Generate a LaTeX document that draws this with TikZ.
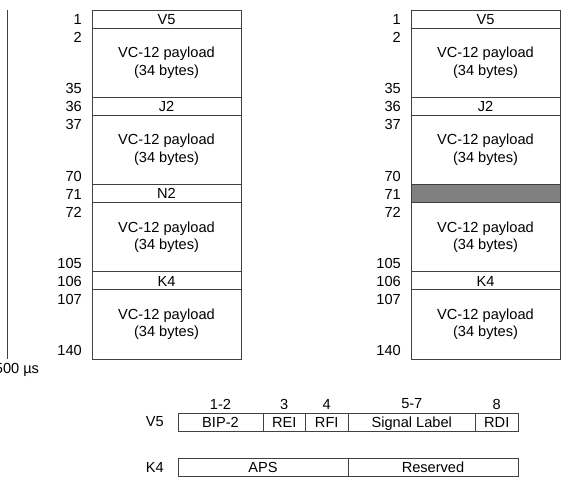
\documentclass[tikz,border=0pt]{standalone}
\usepackage{fontspec}
\setmainfont{Liberation Sans}
\usetikzlibrary{positioning}

\tikzset{
  box/.style={draw=black!75, line width=0.8pt, minimum width=149pt, inner sep=0pt,
    outer sep=0pt, anchor=north west, align=center},
  byterow/.style={box, minimum height=18pt, text height=10.5pt, text depth=0pt},
  payload/.style={box, minimum height=69.25pt},
  num/.style={anchor=east, inner sep=0pt},
  bitcell/.style={draw=black!75, line width=0.8pt, minimum height=18pt, inner sep=0pt,
    outer sep=0pt, anchor=north west, text height=10.5pt, text depth=0pt},
}

\begin{document}
\begin{tikzpicture}[x=1pt, y=-1pt, font=\fontsize{14.6}{17.4}\selectfont]
  \useasboundingbox (0,0) rectangle (568,482);
  \clip (0,0) rectangle (568,482);

  % multiframe period
  \coordinate (ptop) at (7.5,10);
  \coordinate (pbot) at (7.5,359);
  \draw[line width=0.8pt, black!75] (ptop) -- (pbot);
  \node (period) at (17,370) {500 µs};

  % left column
  \node[byterow] (lv5)  at (92,10)     {V5};
  \node[payload] (lp1)  at (92,28)     {VC-12 payload\\(34 bytes)};
  \node[byterow] (lj2)  at (92,97.25)  {J2};
  \node[payload] (lp2)  at (92,115.25) {VC-12 payload\\(34 bytes)};
  \node[byterow] (ln2)  at (92,184.5)  {N2};
  \node[payload] (lp3)  at (92,202.5)  {VC-12 payload\\(34 bytes)};
  \node[byterow] (lk4)  at (92,271.75) {K4};
  \node[payload] (lp4)  at (92,289.75) {VC-12 payload\\(34 bytes)};

  \node[num] (ln1)   at (82,19)  {1};
  \node[num] (ln2a)  at (82,37)  {2};
  \node[num] (ln35)  at (82,88)  {35};
  \node[num] (ln36)  at (82,106) {36};
  \node[num] (ln37)  at (82,124) {37};
  \node[num] (ln70)  at (82,176) {70};
  \node[num] (ln71)  at (82,194) {71};
  \node[num] (ln72)  at (82,212) {72};
  \node[num] (ln105) at (82,263) {105};
  \node[num] (ln106) at (82,281) {106};
  \node[num] (ln107) at (82,299) {107};
  \node[num] (ln140) at (82,350) {140};

  % right column
  \node[byterow] (rv5)  at (411,10)     {V5};
  \node[payload] (rp1)  at (411,28)     {VC-12 payload\\(34 bytes)};
  \node[byterow] (rj2)  at (411,97.25)  {J2};
  \node[payload] (rp2)  at (411,115.25) {VC-12 payload\\(34 bytes)};
  \node[byterow, fill=black!50] (rn2) at (411,184.5) {};
  \node[payload] (rp3)  at (411,202.5)  {VC-12 payload\\(34 bytes)};
  \node[byterow] (rk4)  at (411,271.75) {K4};
  \node[payload] (rp4)  at (411,289.75) {VC-12 payload\\(34 bytes)};

  \node[num] (rn1)   at (401,19)  {1};
  \node[num] (rn2a)  at (401,37)  {2};
  \node[num] (rn35)  at (401,88)  {35};
  \node[num] (rn36)  at (401,106) {36};
  \node[num] (rn37)  at (401,124) {37};
  \node[num] (rn70)  at (401,176) {70};
  \node[num] (rn71)  at (401,194) {71};
  \node[num] (rn72)  at (401,212) {72};
  \node[num] (rn105) at (401,263) {105};
  \node[num] (rn106) at (401,281) {106};
  \node[num] (rn107) at (401,299) {107};
  \node[num] (rn140) at (401,350) {140};

  % V5 and K4 bit layout
  \node[num] (v5lbl) at (164,422) {V5};
  \node[num] (k4lbl) at (164,467) {K4};

  \node (b12) at (220.5,404) {1-2};
  \node (b3)  at (284.3,404) {3};
  \node (b4)  at (326.8,404) {4};
  \node (b57) at (411.8,404) {5-7};
  \node (b8)  at (496.8,404) {8};

  \node[bitcell, minimum width=85pt]   (bip)  at (178,413)   {BIP-2};
  \node[bitcell, minimum width=42.5pt] (rei)  at (263,413)   {REI};
  \node[bitcell, minimum width=42.5pt] (rfi)  at (305.5,413) {RFI};
  \node[bitcell, minimum width=127.5pt] (sig) at (348,413)   {Signal Label};
  \node[bitcell, minimum width=42.5pt] (rdi)  at (475.5,413) {RDI};

  \node[bitcell, minimum width=170pt] (aps) at (178,458) {APS};
  \node[bitcell, minimum width=170pt] (res) at (348,458) {Reserved};
\end{tikzpicture}
\end{document}
